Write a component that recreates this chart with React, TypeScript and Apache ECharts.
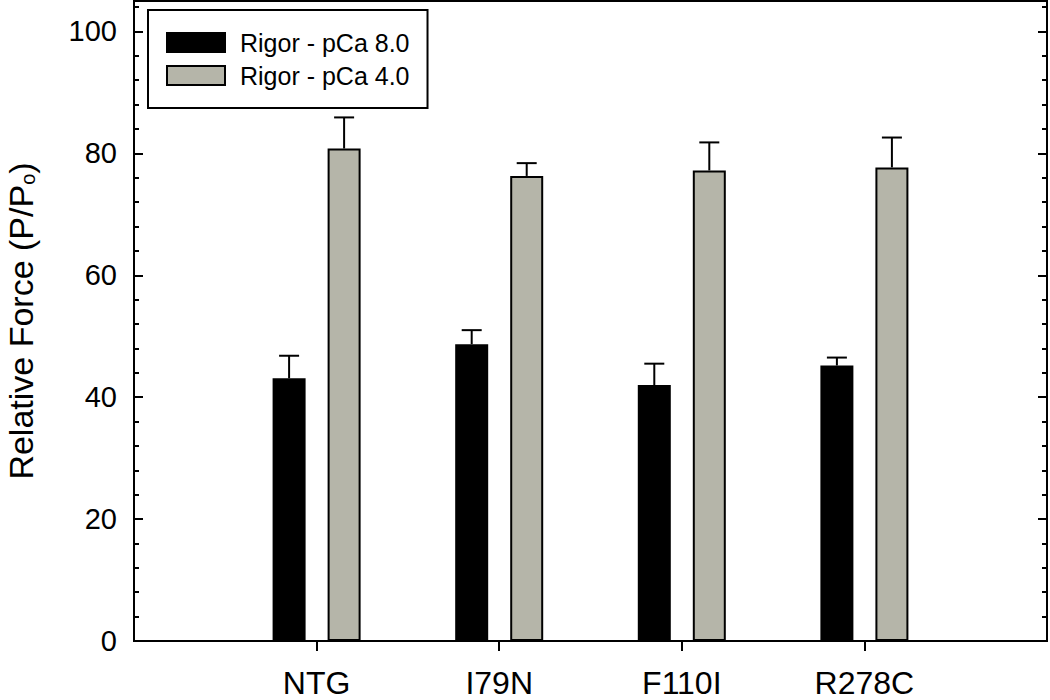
import React, { useEffect, useRef } from "react";
import * as echarts from "echarts";

const CATEGORIES = ["NTG", "I79N", "F110I", "R278C"];
const SERIES_NAMES = ["Rigor - pCa 8.0", "Rigor - pCa 4.0"];
const PCA8_VALUES = [43.1, 48.7, 42.0, 45.2];
const PCA8_ERRORS = [3.7, 2.3, 3.5, 1.3];
const PCA4_VALUES = [80.8, 76.3, 77.2, 77.7];
const PCA4_ERRORS = [5.1, 2.1, 4.6, 4.9];
const Y_MIN = 0;
const Y_MAX = 105;
const Y_MAJOR = 20;
const Y_MINOR = 4;

const FONT = 'Arial, "Liberation Sans", Helvetica, sans-serif';
const BAR_WIDTH = 33;
const BAR_GAP = 0.667;
const HALF_SPACING = (BAR_WIDTH * (1 + BAR_GAP)) / 2;
const CAP = 20;
const GREY = "#b5b5a9";

export default function App() {
  const ref = useRef<HTMLDivElement>(null);

  useEffect(() => {
    if (!ref.current) return;
    const chart = echarts.init(ref.current, undefined, { renderer: "svg" });

    const cats = ["", ...CATEGORIES, ""];
    const pad = (arr: number[]) => [null, ...arr, null];

    const errData: number[][] = [];
    PCA8_VALUES.forEach((v, i) => errData.push([i + 1, v, PCA8_ERRORS[i], 0]));
    PCA4_VALUES.forEach((v, i) => errData.push([i + 1, v, PCA4_ERRORS[i], 1]));

    const lineStyle = { stroke: "#000", lineWidth: 2 };

    const minorAxis = (position: "left" | "right") => ({
      type: "value",
      position,
      min: Y_MIN,
      max: Y_MAX,
      interval: Y_MINOR,
      axisLine: { show: false },
      axisTick: { show: true, inside: true, length: 5, lineStyle: { color: "#000", width: 2 } },
      axisLabel: { show: false },
      splitLine: { show: false },
    });

    chart.setOption({
      animation: false,
      backgroundColor: "#fff",
      grid: {
        left: 134,
        right: 3,
        top: 1,
        bottom: 59,
        containLabel: false,
        outerBoundsMode: "none",
        show: true,
        borderColor: "#000",
        borderWidth: 2,
        backgroundColor: "transparent",
      },
      legend: {
        orient: "vertical",
        left: 148,
        top: 10,
        padding: [20, 18, 20, 18],
        itemWidth: 58,
        itemHeight: 19,
        itemGap: 8,
        borderColor: "#000",
        borderWidth: 2,
        backgroundColor: "#fff",
        icon: "rect",
        textStyle: {
          fontFamily: FONT,
          fontSize: 25,
          lineHeight: 24,
          color: "#000",
          padding: [0, 0, 0, 10],
        },
        data: SERIES_NAMES,
      },
      xAxis: [
        {
          type: "category",
          data: cats,
          boundaryGap: false,
          axisLine: { show: true, lineStyle: { color: "#000", width: 2 } },
          axisTick: {
            show: true,
            inside: false,
            length: 10,
            interval: (i: number) => i >= 1 && i <= CATEGORIES.length,
            lineStyle: { color: "#000", width: 2 },
          },
          axisLabel: {
            interval: 0,
            margin: 26,
            fontFamily: FONT,
            fontSize: 32,
            lineHeight: 32,
            color: "#000",
          },
          splitLine: { show: false },
        },
      ],
      yAxis: [
        {
          type: "value",
          position: "left",
          min: Y_MIN,
          max: Y_MAX,
          interval: Y_MAJOR,
          axisLine: { show: true, lineStyle: { color: "#000", width: 2 } },
          axisTick: { show: true, inside: true, length: 9, lineStyle: { color: "#000", width: 2 } },
          axisLabel: {
            margin: 17,
            fontFamily: FONT,
            fontSize: 29,
            color: "#000",
            formatter: (v: number) => (v % Y_MAJOR === 0 ? String(v) : ""),
          },
          splitLine: { show: false },
          name: "{a|Relative Force (P/P}{s|o}{a|)}",
          nameLocation: "middle",
          nameRotate: 90,
          nameGap: 96,
          nameTextStyle: {
            rich: {
              a: { fontFamily: FONT, fontSize: 34, color: "#000", lineHeight: 34 },
              s: { fontFamily: FONT, fontSize: 20, color: "#000", verticalAlign: "bottom", lineHeight: 34 },
            },
          },
        },
        minorAxis("left"),
        {
          type: "value",
          position: "right",
          min: Y_MIN,
          max: Y_MAX,
          interval: Y_MAJOR,
          axisLine: { show: true, lineStyle: { color: "#000", width: 2 } },
          axisTick: { show: true, inside: true, length: 9, lineStyle: { color: "#000", width: 2 } },
          axisLabel: { show: false },
          splitLine: { show: false },
        },
        minorAxis("right"),
      ],
      series: [
        {
          name: SERIES_NAMES[0],
          type: "bar",
          data: pad(PCA8_VALUES),
          barWidth: BAR_WIDTH,
          barGap: `${BAR_GAP * 100}%`,
          itemStyle: { color: "#000", borderColor: "#000", borderWidth: 2 },
          z: 2,
        },
        {
          name: SERIES_NAMES[1],
          type: "bar",
          data: pad(PCA4_VALUES),
          barWidth: BAR_WIDTH,
          barGap: `${BAR_GAP * 100}%`,
          itemStyle: { color: GREY, borderColor: "#000", borderWidth: 2 },
          z: 2,
        },
        {
          name: "error",
          type: "custom",
          data: errData,
          encode: { x: 0, y: 1 },
          z: 3,
          silent: true,
          renderItem: (_params: any, api: any) => {
            const cat = api.value(0);
            const val = api.value(1);
            const err = api.value(2);
            const s = api.value(3);
            const base = api.coord([cat, val]);
            const top = api.coord([cat, val + err]);
            const x = base[0] + (s === 0 ? -1 : 1) * HALF_SPACING;
            return {
              type: "group",
              children: [
                { type: "line", shape: { x1: x, y1: base[1], x2: x, y2: top[1] }, style: lineStyle },
                { type: "line", shape: { x1: x - CAP / 2, y1: top[1], x2: x + CAP / 2, y2: top[1] }, style: lineStyle },
              ],
            };
          },
        },
      ],
    });

    return () => chart.dispose();
  }, []);

  return <div ref={ref} style={{ width: 1050, height: 700, position: "absolute", left: 0, top: 0 }} />;
}
